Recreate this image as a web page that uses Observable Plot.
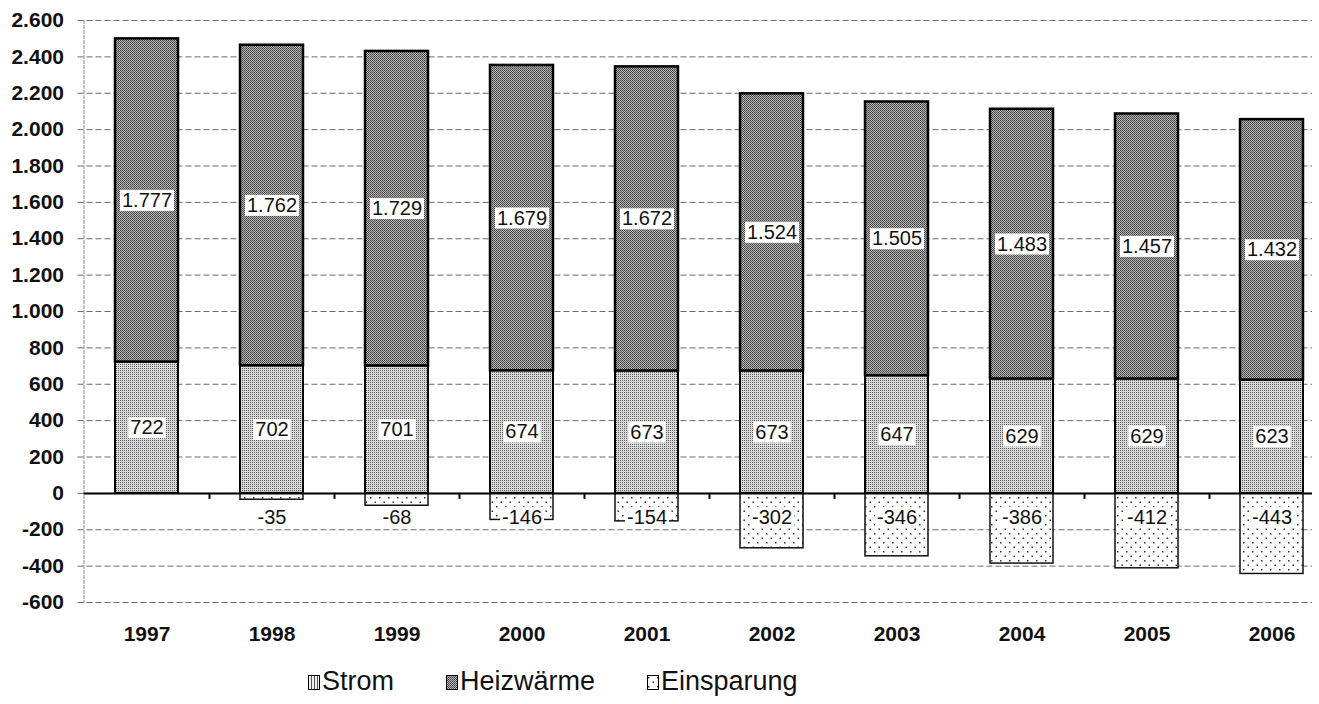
<!DOCTYPE html>
<html>
<head>
<meta charset="utf-8">
<script src="https://cdn.jsdelivr.net/npm/d3@7"></script>
<script src="https://cdn.jsdelivr.net/npm/@observablehq/plot@0.6"></script>
<style>
  body { margin: 0; background: #fff; font-family: "Liberation Sans", Arial, sans-serif; position: relative; width: 1319px; height: 704px; overflow: hidden; }
  .legend-item { position: absolute; top: 667px; height: 28px; line-height: 28px; font-size: 27px; color: #111; white-space: nowrap; }
  .legend-item svg { position: absolute; left: 0; top: 8px; }
  .legend-item span { position: absolute; left: 14px; top: 0; }
</style>
</head>
<body>
<svg width="0" height="0" style="position:absolute">
  <defs>
    <pattern id="pStrom" width="2" height="2" patternUnits="userSpaceOnUse">
      <rect width="2" height="2" fill="#d8d8d8"/>
      <rect width="1" height="1" fill="#606060"/>
    </pattern>
    <pattern id="pHeiz" width="2" height="2" patternUnits="userSpaceOnUse">
      <rect width="2" height="2" fill="#b8b8b8"/>
      <rect width="1" height="1" fill="#3c3c3c"/>
      <rect x="1" y="1" width="1" height="1" fill="#555"/>
    </pattern>
    <pattern id="pEinsp" width="9" height="9" patternUnits="userSpaceOnUse">
      <rect width="9" height="9" fill="#ffffff"/>
      <rect x="1" y="2" width="1.5" height="1.5" fill="#333"/>
      <rect x="5.5" y="6.5" width="1.5" height="1.5" fill="#333"/>
    </pattern>
    <pattern id="pStromLeg" width="3" height="2" patternUnits="userSpaceOnUse">
      <rect width="3" height="2" fill="#eeeeee"/>
      <rect width="1" height="2" fill="#555"/>
    </pattern>
  </defs>
</svg>
<div id="chart"></div>
<div id="legend"></div>
<script>
// ---- data ----
const years = ["1997", "1998", "1999", "2000", "2001", "2002", "2003", "2004", "2005", "2006"];
const strom = [722, 702, 701, 674, 673, 673, 647, 629, 629, 623];
const heizwaerme = [1777, 1762, 1729, 1679, 1672, 1524, 1505, 1483, 1457, 1432];
const einsparung = [0, -35, -68, -146, -154, -302, -346, -386, -412, -443];
const yTicks = [-600, -400, -200, 0, 200, 400, 600, 800, 1000, 1200, 1400, 1600, 1800, 2000, 2200, 2400, 2600];
const seriesNames = ["Strom", "Heizwärme", "Einsparung"];

const rows = years.map((year, i) => ({
  year,
  strom: strom[i],
  heiz: heizwaerme[i],
  einsp: einsparung[i]
}));
const negRows = rows.filter(d => d.einsp < 0);

const locale = d3.formatLocale({decimal: ",", thousands: ".", grouping: [3], currency: ["", " €"], minus: "-"});
const fmt = locale.format(",d");

const W = 1319, H = 662;
const mL = 83.5, mR = 7;
// band layout: step 125px, bar 62.5px, first band centred at ~146px
const step = 125;
const outer = ((W - mL - mR) / step - (years.length - 0.5)) / 2;
const align = (114.75 - mL) / ((W - mL - mR) - step * (years.length - 0.5));

const chart = Plot.plot({
  width: W,
  height: H,
  marginLeft: mL,
  marginRight: mR,
  marginTop: 20,
  marginBottom: 60,
  style: {fontFamily: "'Liberation Sans', Arial, sans-serif", background: "#fff", color: "#111"},
  x: {type: "band", domain: years, paddingInner: 0.5, paddingOuter: outer, align},
  y: {domain: [-600, 2600]},
  marks: [
    Plot.ruleY(yTicks, {stroke: "#6a6a6a", strokeWidth: 1, strokeDasharray: "6,3", insetLeft: -6}),
    Plot.frame({anchor: "left", stroke: "#8a8a8a", strokeDasharray: "3,2"}),
    Plot.barY(rows, {x: "year", y1: 0, y2: "strom", fill: "url(#pStrom)", stroke: "#000", strokeWidth: 2}),
    Plot.barY(rows, {x: "year", y1: "strom", y2: d => d.strom + d.heiz, fill: "url(#pHeiz)", stroke: "#000", strokeWidth: 2.5}),
    Plot.barY(negRows, {x: "year", y1: 0, y2: "einsp", fill: "url(#pEinsp)", stroke: "#111", strokeWidth: 1.5}),
    Plot.ruleY([0], {stroke: "#000", strokeWidth: 2}),
    Plot.ruleX(years.slice(0, -1), {x: d => d, dx: step / 2, y1: 0, y2: 0, insetBottom: -6, stroke: "#000", strokeWidth: 2}),
    Plot.text(rows, {x: "year", y: d => d.strom / 2, text: d => fmt(d.strom), fontSize: 20, fill: "#111"}),
    Plot.text(rows, {x: "year", y: d => d.strom + d.heiz / 2, text: d => fmt(d.heiz), fontSize: 20, fill: "#111"}),
    Plot.text(negRows, {x: "year", y: () => 0, dy: 24, text: d => fmt(d.einsp), fontSize: 20, fill: "#111"}),
    Plot.axisY({ticks: yTicks, tickFormat: fmt, tickSize: 0, tickPadding: 20, fontSize: 21, fontWeight: "bold", label: null}),
    Plot.axisX({tickSize: 0, tickPadding: 24, fontSize: 21, fontWeight: "bold", label: null})
  ]
});
document.getElementById("chart").appendChild(chart);

// white boxes behind data labels (copy each label's transform so the box sits under it)
const svgNS = "http://www.w3.org/2000/svg";
chart.querySelectorAll('g[aria-label="text"] text').forEach(t => {
  const b = t.getBBox();
  const r = document.createElementNS(svgNS, "rect");
  r.setAttribute("x", b.x - 2);
  r.setAttribute("y", b.y + 1);
  r.setAttribute("width", b.width + 4);
  r.setAttribute("height", b.height - 1);
  r.setAttribute("fill", "#fff");
  r.setAttribute("stroke", "none");
  const tr = t.getAttribute("transform");
  if (tr) r.setAttribute("transform", tr);
  t.parentNode.insertBefore(r, t);
});

// legend
const legendFills = ["url(#pStromLeg)", "url(#pHeiz)", "url(#pEinsp)"];
const legendLeft = [308, 446, 647];
const legend = document.getElementById("legend");
seriesNames.forEach((name, i) => {
  const item = document.createElement("div");
  item.className = "legend-item";
  item.style.left = legendLeft[i] + "px";
  item.innerHTML = `<svg width="12" height="15"><rect x="0.5" y="0.5" width="11" height="14" fill="${legendFills[i]}" stroke="#000" stroke-width="1"/></svg><span>${name}</span>`;
  legend.appendChild(item);
});
</script>
</body>
</html>
